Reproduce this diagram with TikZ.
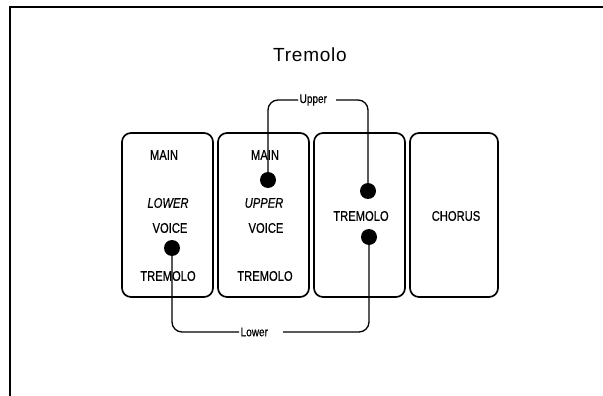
\documentclass[tikz,border=0pt]{standalone}
\usepackage{fontspec}
\setmainfont{Liberation Sans}
\newfontfamily\condfont[FakeStretch=0.8,FakeBold=0.6]{Liberation Sans}
\newfontfamily\titlefont[LetterSpace=4]{Liberation Sans}
\begin{document}
\begin{tikzpicture}[x=1pt,y=-1pt,
  panel/.style={draw, line width=1.7pt, rounded corners=9pt, minimum width=91pt, minimum height=164pt, inner sep=0pt},
  lbl/.style={font=\condfont\fontsize{14}{14}\selectfont, inner sep=0pt},
  ilbl/.style={font=\condfont\itshape\fontsize{14}{14}\selectfont, inner sep=0pt},
  knob/.style={circle, fill=black, minimum size=16pt, inner sep=0pt},
  wire/.style={line width=1.3pt, rounded corners=10pt},
  wlbl/.style={font=\condfont\fontsize{12.5}{12.5}\selectfont, inner sep=1.5pt},
  frame/.style={line width=1.8pt}]
\useasboundingbox (0,0) rectangle (603,396);
\draw[frame] (10,396) -- (10,7) -- (603,7);
\node[font=\titlefont\fontsize{19}{19}\selectfont] (title) at (310,55) {Tremolo};
% panels
\node[panel] (b1) at (167.5,215) {};
\node[panel] (b2) at (263.5,215) {};
\node[panel] (b3) at (359.5,215) {};
\node[panel, minimum width=88pt] (b4) at (454,215) {};
% panel texts
\node[lbl] (m1) at (164,155) {MAIN};
\node[ilbl] (lw) at (168,203) {LOWER};
\node[lbl] (v1) at (170,228) {VOICE};
\node[lbl] (t1) at (168,276) {TREMOLO};
\node[lbl] (m2) at (265,155) {MAIN};
\node[ilbl] (up) at (264,203) {UPPER};
\node[lbl] (v2) at (266,228) {VOICE};
\node[lbl] (t2) at (265,276) {TREMOLO};
\node[lbl] (t3) at (361,216) {TREMOLO};
\node[lbl] (ch) at (456,216) {CHORUS};
% wire labels
\node[wlbl, anchor=west] (ul) at (298,100) {Upper};
\node[wlbl, anchor=west] (ll) at (239,332) {Lower};
\coordinate (ur) at (336,100);
\coordinate (lr) at (283,332);
% knobs positions
\coordinate (k1) at (172,248);
\coordinate (k2) at (268,180);
\coordinate (k3) at (368,191);
\coordinate (k4) at (369,237);
% wires
\draw[wire] (k2) |- (ul.west);
\draw[wire] (ur) -| (k3);
\draw[wire] (k1) |- (ll.west);
\draw[wire] (lr) -| (k4);
% knobs
\node[knob] (d1) at (k1) {};
\node[knob] (d2) at (k2) {};
\node[knob] (d3) at (k3) {};
\node[knob] (d4) at (k4) {};
\end{tikzpicture}
\end{document}
